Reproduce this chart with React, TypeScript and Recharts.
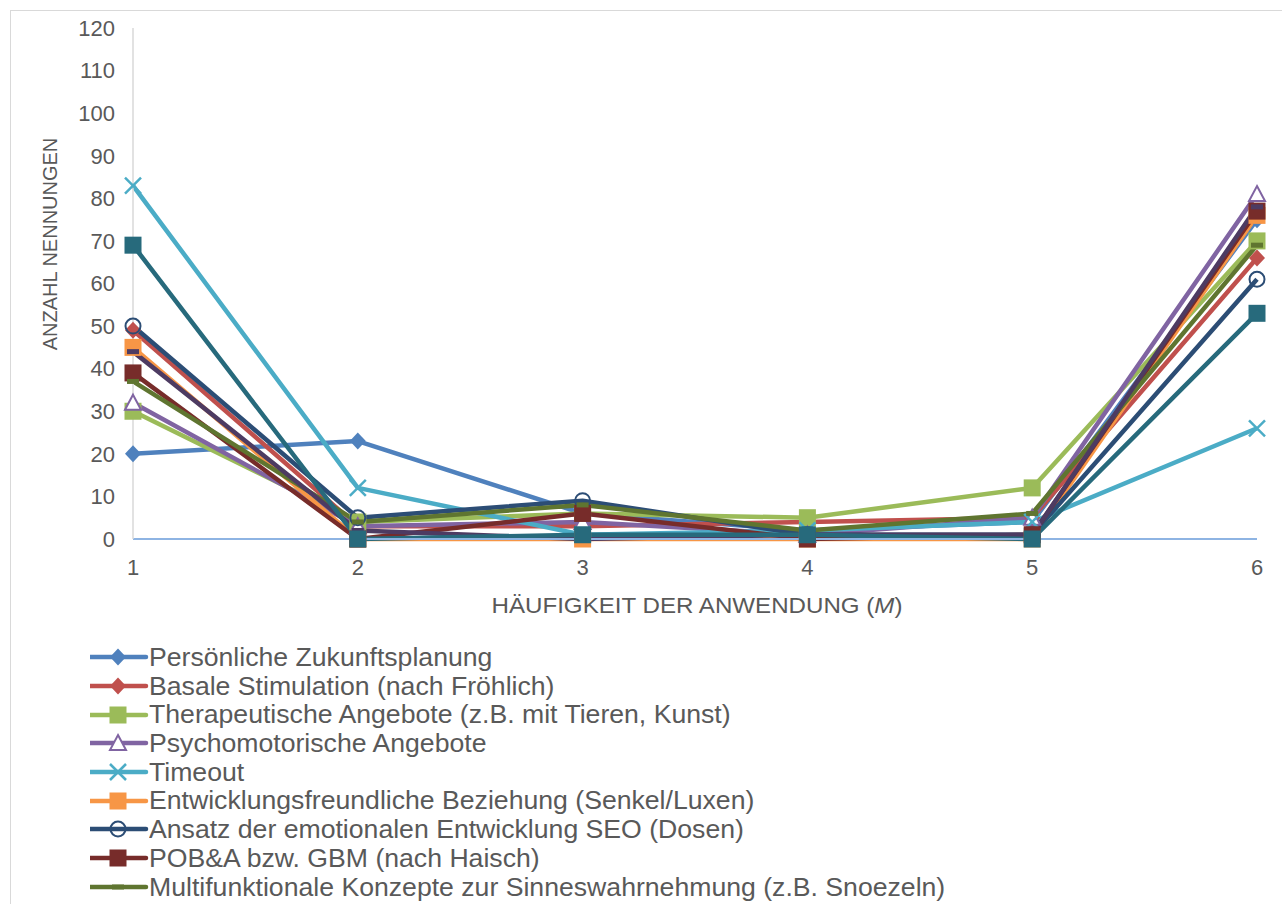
import { LineChart, Line, XAxis, YAxis } from "recharts";

// x categories and y ticks
const categories = [1, 2, 3, 4, 5, 6];
const yTicks = [0, 10, 20, 30, 40, 50, 60, 70, 80, 90, 100, 110, 120];

// values per series
const persoenliche = [20, 23, 6, 2, 4, 75];
const basale = [49, 3, 3, 4, 5, 66];
const therapeutische = [30, 4, 6, 5, 12, 70];
const psychomotorische = [32, 3, 4, 1, 5, 81];
const timeout = [83, 12, 1, 2, 4, 26];
const entwicklungsfreundlich = [45, 0, 0, 0, 0, 76];
const seo = [50, 5, 9, 1, 1, 61];
const pob = [39, 0, 6, 0, 1, 77];
const multifunktional = [37, 4, 8, 2, 6, 69];
const series10 = [44, 2, 0, 1, 1, 78];
const series11 = [69, 0, 1, 1, 0, 53];

type Shape = "diamond" | "square" | "triangle" | "x" | "circle" | "dash";

const series: {
  key: string;
  name: string;
  color: string;
  shape: Shape;
  values: number[];
  inLegend: boolean;
}[] = [
  { key: "s1", name: "Persönliche Zukunftsplanung", color: "#4F81BD", shape: "diamond", values: persoenliche, inLegend: true },
  { key: "s2", name: "Basale Stimulation (nach Fröhlich)", color: "#C0504D", shape: "diamond", values: basale, inLegend: true },
  { key: "s3", name: "Therapeutische Angebote (z.B. mit Tieren, Kunst)", color: "#9BBB59", shape: "square", values: therapeutische, inLegend: true },
  { key: "s4", name: "Psychomotorische Angebote", color: "#8064A2", shape: "triangle", values: psychomotorische, inLegend: true },
  { key: "s5", name: "Timeout", color: "#4BACC6", shape: "x", values: timeout, inLegend: true },
  { key: "s6", name: "Entwicklungsfreundliche Beziehung (Senkel/Luxen)", color: "#F79646", shape: "square", values: entwicklungsfreundlich, inLegend: true },
  { key: "s7", name: "Ansatz der emotionalen Entwicklung SEO (Dosen)", color: "#2C4D75", shape: "circle", values: seo, inLegend: true },
  { key: "s8", name: "POB&A bzw. GBM (nach Haisch)", color: "#772C2A", shape: "square", values: pob, inLegend: true },
  { key: "s9", name: "Multifunktionale Konzepte zur Sinneswahrnehmung (z.B. Snoezeln)", color: "#5F7530", shape: "dash", values: multifunktional, inLegend: true },
  { key: "s10", name: "", color: "#4D3B62", shape: "dash", values: series10, inLegend: false },
  { key: "s11", name: "", color: "#276A7C", shape: "square", values: series11, inLegend: false },
];

const data = categories.map((c, i) => {
  const row: Record<string, number> = { x: c };
  series.forEach((s) => (row[s.key] = s.values[i]));
  return row;
});

const FONT = '"Liberation Sans", Arial, sans-serif';
const TEXT = "#595959";

function Marker({ cx, cy, shape, color }: { cx: number; cy: number; shape: Shape; color: string }) {
  switch (shape) {
    case "diamond":
      return <path d={`M${cx},${cy - 8.5}L${cx + 8},${cy}L${cx},${cy + 8.5}L${cx - 8},${cy}Z`} fill={color} />;
    case "square":
      return <rect x={cx - 8.5} y={cy - 8.5} width={17} height={17} fill={color} />;
    case "triangle":
      return (
        <path
          d={`M${cx},${cy - 8}L${cx + 8},${cy + 7}L${cx - 8},${cy + 7}Z`}
          fill="#fff"
          stroke={color}
          strokeWidth={2}
        />
      );
    case "x":
      return (
        <g stroke={color} strokeWidth={2.5}>
          <line x1={cx - 8} y1={cy - 8} x2={cx + 8} y2={cy + 8} />
          <line x1={cx - 8} y1={cy + 8} x2={cx + 8} y2={cy - 8} />
        </g>
      );
    case "circle":
      return <circle cx={cx} cy={cy} r={7.5} fill="none" stroke={color} strokeWidth={2} />;
    default:
      return <rect x={cx - 6} y={cy - 2.5} width={12} height={5} fill={color} />;
  }
}

function LegendRow({ name, color, shape }: { name: string; color: string; shape: Shape }) {
  return (
    <div style={{ display: "flex", alignItems: "center", height: 28.7 }}>
      <svg width={59} height={28} style={{ flex: "none" }}>
        <line x1={0} y1={14} x2={56} y2={14} stroke={color} strokeWidth={4.5} strokeLinecap="round" />
        <Marker cx={28} cy={14} shape={shape} color={color} />
      </svg>
      <span
        style={{
          whiteSpace: "nowrap",
          display: "inline-block",
          transform: "scaleX(1.065)",
          transformOrigin: "left center",
        }}
      >
        {name}
      </span>
    </div>
  );
}

export default function App() {
  return (
    <div
      style={{
        position: "absolute",
        left: 0,
        top: 0,
        width: 1282,
        height: 904,
        overflow: "hidden",
        background: "#fff",
        fontFamily: FONT,
      }}
    >
      <div
        style={{
          position: "absolute",
          left: 10,
          top: 10,
          width: 1300,
          height: 920,
          border: "1px solid #D9D9D9",
        }}
      />
      <LineChart
        width={1282}
        height={904}
        data={data}
        margin={{ top: 28, right: 25, left: 132, bottom: 364 }}
        style={{ position: "absolute", left: 0, top: 0 }}
      >
        <XAxis
          dataKey="x"
          type="number"
          domain={[1, 6]}
          ticks={categories}
          height={1}
          tickSize={0}
          tickMargin={20}
          tickLine={false}
          axisLine={{ stroke: "#8EB4E3", strokeWidth: 2 }}
          tick={{ fill: TEXT, fontSize: 22, fontFamily: FONT }}
        />
        <YAxis
          domain={[0, 120]}
          ticks={yTicks}
          width={1}
          tickSize={0}
          tickMargin={18}
          tickLine={false}
          axisLine={{ stroke: "#D9D9D9", strokeWidth: 1.5 }}
          tick={{ fill: TEXT, fontSize: 22, fontFamily: FONT }}
        />
        {series.map((s) => (
          <Line
            key={s.key}
            dataKey={s.key}
            name={s.name}
            stroke={s.color}
            strokeWidth={4.5}
            strokeLinejoin="round"
            isAnimationActive={false}
            activeDot={false}
            legendType="none"
            dot={(p: any) => (
              <Marker key={`${s.key}-${p.index}`} cx={p.cx} cy={p.cy} shape={s.shape} color={s.color} />
            )}
          />
        ))}
      </LineChart>
      <svg
        width={1282}
        height={904}
        style={{ position: "absolute", left: 0, top: 0, pointerEvents: "none" }}
      >
        <text
          x={50}
          y={244}
          transform="rotate(-90 50 244)"
          textAnchor="middle"
          dominantBaseline="central"
          fill={TEXT}
          fontSize={20}
          fontFamily={FONT}
        >
          ANZAHL NENNUNGEN
        </text>
        <text
          x={697}
          y={605}
          textAnchor="middle"
          dominantBaseline="central"
          fill={TEXT}
          fontSize={22}
          fontFamily={FONT}
          textLength={411}
          lengthAdjust="spacingAndGlyphs"
        >
          HÄUFIGKEIT DER ANWENDUNG (<tspan fontStyle="italic">M</tspan>)
        </text>
      </svg>
      <div
        style={{
          position: "absolute",
          left: 90,
          top: 643,
          color: TEXT,
          fontSize: 25,
          lineHeight: "28.7px",
        }}
      >
        {series
          .filter((s) => s.inLegend)
          .map((s) => (
            <LegendRow key={s.key} name={s.name} color={s.color} shape={s.shape} />
          ))}
      </div>
    </div>
  );
}
